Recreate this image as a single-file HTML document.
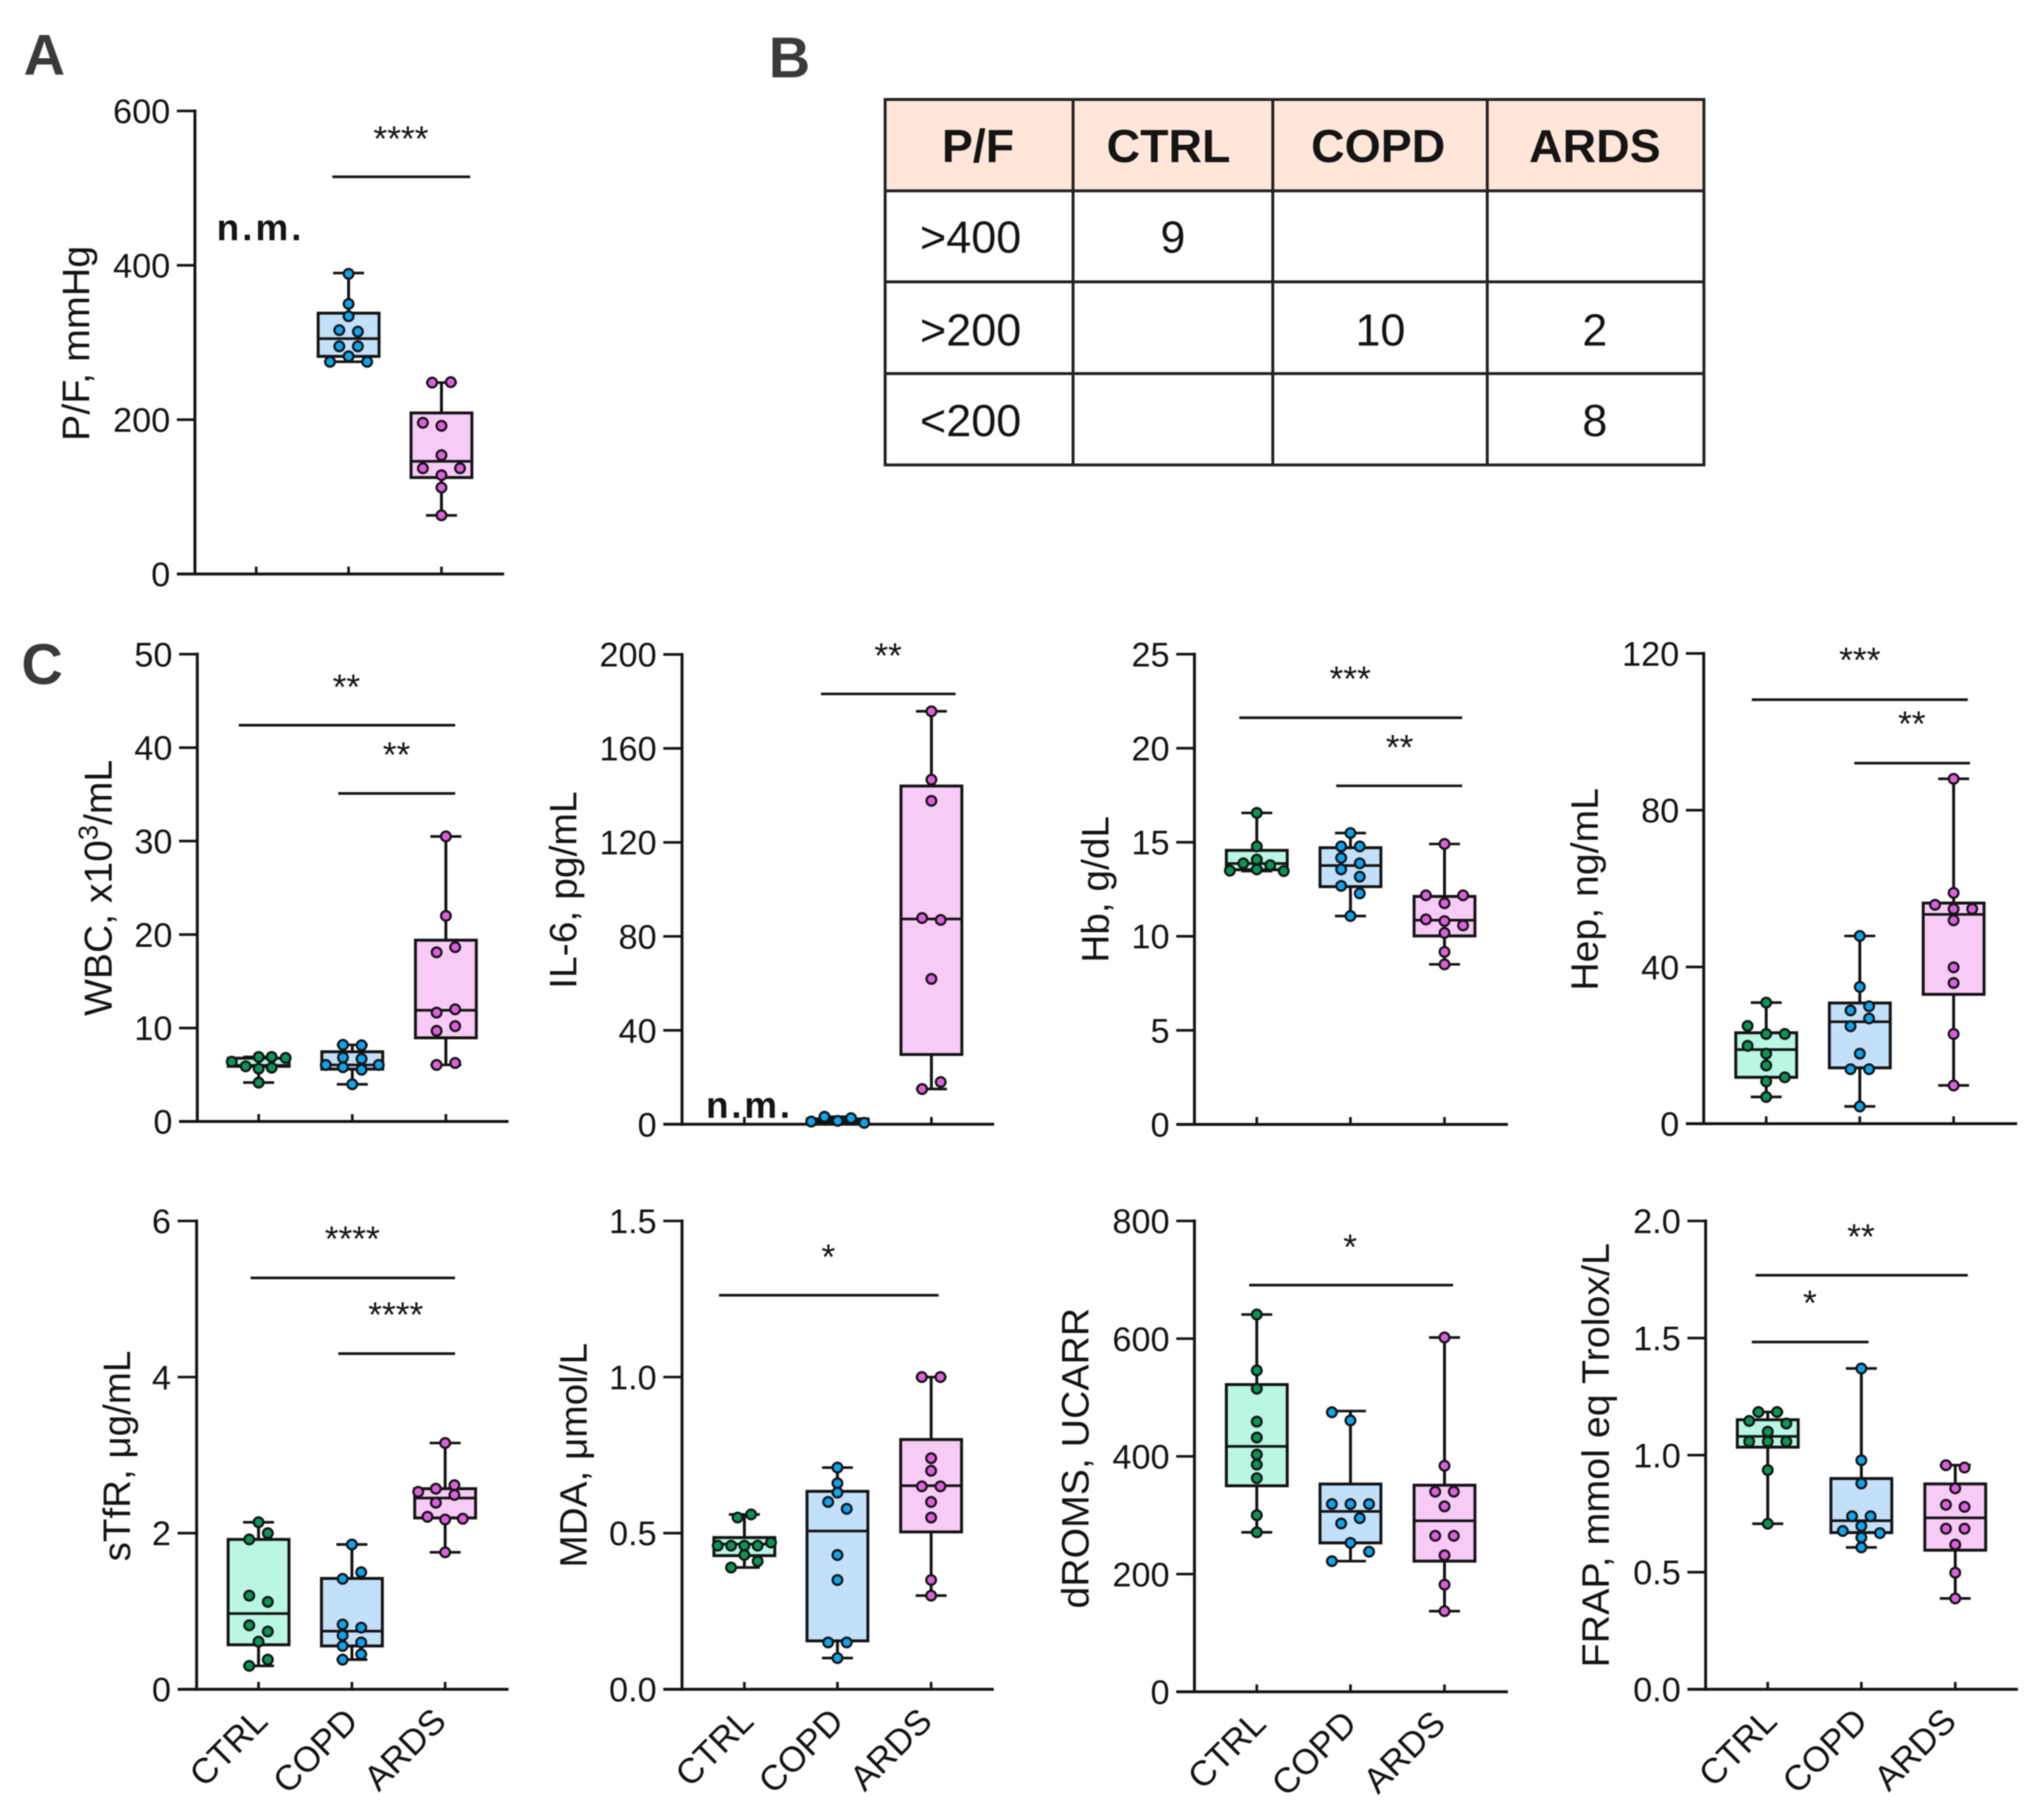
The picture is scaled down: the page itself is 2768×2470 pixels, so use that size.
<!DOCTYPE html>
<html lang="en">
<head>
<meta charset="utf-8">
<title>Box plots of P/F and blood markers in CTRL, COPD and ARDS</title>
<style>
html,body{margin:0;padding:0;background:#fff;width:2768px;height:2470px;overflow:hidden}
svg{display:block;filter:blur(.7px)}
text{font-family:"Liberation Sans",Arial,sans-serif;fill:#141414}
</style>
</head>
<body>
<svg id="figure" xmlns="http://www.w3.org/2000/svg" width="2768" height="2470" viewBox="0 0 2768 2470">
<rect x="0" y="0" width="2768" height="2470" fill="#fff"/>
<text x="32" y="101" font-size="78" font-weight="700" style="fill:#3a3a3a">A</text>
<text x="1043" y="105" font-size="78" font-weight="700" style="fill:#3a3a3a">B</text>
<text x="29" y="928" font-size="78" font-weight="700" style="fill:#3a3a3a">C</text>

<g>
<rect x="1201" y="135" width="1111" height="124" fill="#ffe6d9"/>
<g stroke="#222" stroke-width="4" fill="none">
<rect x="1201" y="135" width="1111" height="496"/>
<line x1="1201" x2="2312" y1="259" y2="259"/>
<line x1="1201" x2="2312" y1="382.5" y2="382.5"/>
<line x1="1201" x2="2312" y1="507" y2="507"/>
<line x1="1456" x2="1456" y1="135" y2="631"/>
<line x1="1727" x2="1727" y1="135" y2="631"/>
<line x1="2018" x2="2018" y1="135" y2="631"/>
</g>
<g font-size="61" text-anchor="middle">
<text x="1327" y="220" font-size="63" font-weight="700">P/F</text>
<text x="1585.5" y="220" font-size="63" font-weight="700">CTRL</text>
<text x="1870" y="220" font-size="63" font-weight="700">COPD</text>
<text x="2164" y="220" font-size="63" font-weight="700">ARDS</text>
<text x="1317" y="343">&gt;400</text>
<text x="1317" y="469">&gt;200</text>
<text x="1317" y="592">&lt;200</text>
<text x="1591.5" y="343">9</text>
<text x="1873" y="469">10</text>
<text x="2164" y="469">2</text>
<text x="2164" y="592">8</text>
</g>
</g>
</svg>

<script>
// ---------- categories ----------
const categories = ['CTRL', 'COPD', 'ARDS'];

// ---------- P/F ----------
const pfTicks = [0, 200, 400, 600];
const pfCtrlValues = [];
const pfCopdValues = [389, 350, 334, 316, 314, 295, 295, 282, 275, 275];
const pfArdsValues = [248, 248.6, 196, 192, 154, 137, 137, 128, 112, 76];
const pfCtrlSlots = [];
const pfCopdSlots = [0, 0, 0, -1, 1, -1, 1, 0, -2, 2];
const pfArdsSlots = [-1, 1, -2, 0, 0, -2, 2, 0, 0, 0];
const pfCtrlBox = null;
const pfCopdBox = [275, 282, 305, 338, 390];
const pfArdsBox = [76, 125, 146, 208.7, 248];
const pfBracketValues = [514.7];
const pfStarValues = [570];
const pfStarLabels = ['****'];

// ---------- WBC ----------
const wbcTicks = [0, 10, 20, 30, 40, 50];
const wbcCtrlValues = [6.4, 5.9, 6.9, 5.65, 6.9, 5.75, 6.8, 4.16];
const wbcCopdValues = [8.2, 8.15, 6.84, 6.7, 6.05, 6.05, 5.8, 5.54, 3.98];
const wbcArdsValues = [30.5, 22, 18.65, 18.1, 11.65, 12, 10.2, 9.7, 6.05, 6.26];
const wbcCtrlSlots = [-2.9, -1.4, 0, 0, 1.4, 1.4, 2.9, 0];
const wbcCopdSlots = [-1, 1, -1, 1, -2.85, 2.85, -1, 1, 0];
const wbcArdsSlots = [0, 0, 1, -1, -1, 1, 1, -1, -1, 1];
const wbcCtrlBox = [4.16, 5.9, 6.0, 6.77, 6.9];
const wbcCopdBox = [3.98, 5.6, 6.05, 7.46, 8.2];
const wbcArdsBox = [6.05, 8.95, 11.9, 19.4, 30.5];
const wbcBracketValues = [42.4, 35.1];
const wbcStarValues = [47, 39.75];
const wbcStarLabels = ['**', '**'];

// ---------- IL-6 ----------
const il6Ticks = [0, 40, 80, 120, 160, 200];
const il6CtrlValues = [];
const il6CopdValues = [1.15, 3.2, 1.44, 2.6, 0.6];
const il6ArdsValues = [175.8, 146.7, 137.7, 87.8, 87, 61.9, 18, 15];
const il6CtrlSlots = [];
const il6CopdSlots = [-2.85, -1.43, 0, 1.43, 2.85];
const il6ArdsSlots = [0, 0, 0, -1, 1, 0, 1, -1];
const il6CtrlBox = null;
const il6CopdBox = [0.6, 0.6, 1.15, 2.3, 3.2];
const il6ArdsBox = [15, 29.7, 87.4, 144, 175.8];
const il6BracketValues = [183.2];
const il6StarValues = [201.4];
const il6StarLabels = ['**'];

// ---------- Hb ----------
const hbTicks = [0, 5, 10, 15, 20, 25];
const hbCtrlValues = [16.56, 14.78, 14.08, 13.88, 13.78, 13.49, 13.56, 13.47];
const hbCopdValues = [15.49, 14.78, 14.78, 14.17, 13.88, 13.56, 13.17, 12.68, 12.28, 11.08];
const hbArdsValues = [14.91, 12.18, 12.18, 11.76, 10.9, 10.81, 10.58, 10.18, 9.17, 8.51];
const hbCtrlSlots = [0, 0, 0, -1.45, 1.45, -2.9, 0, 2.9];
const hbCopdSlots = [0, -1, 1, -1, 1, -1, 1, -1, 1, 0];
const hbArdsSlots = [0, -2, 2, 0, -2, 0, 2, 0, 0, 0];
const hbCtrlBox = [13.47, 13.54, 13.87, 14.57, 16.56];
const hbCopdBox = [11.08, 12.64, 13.76, 14.71, 15.49];
const hbArdsBox = [8.51, 10.02, 10.86, 12.12, 14.91];
const hbBracketValues = [21.62, 18.0];
const hbStarValues = [23.94, 20.3];
const hbStarLabels = ['***', '**'];

// ---------- Hep ----------
const hepTicks = [0, 40, 80, 120];
const hepCtrlValues = [30.9, 24.95, 22.9, 22.9, 19.86, 17.87, 14.85, 11.83, 10.79, 6.82];
const hepCopdValues = [47.9, 34.9, 29.96, 28.9, 26.85, 24.86, 17.87, 13.9, 13.9, 4.4];
const hepArdsValues = [88, 58.9, 55.86, 54.8, 54.8, 51.9, 39.9, 35.9, 22.9, 9.76];
const hepCtrlSlots = [0, -2, 0, 2, -2, 0, 0, 2, 0, 0];
const hepCopdSlots = [0, 0, 1, -1, 1, -1, 0, -1, 1, 0];
const hepArdsSlots = [0, 0, -2, 0, 2, 0, 0, 0, 0, 0];
const hepCtrlBox = [6.82, 11.83, 18.9, 23.2, 30.9];
const hepCopdBox = [4.4, 14.25, 26, 30.8, 47.9];
const hepArdsBox = [9.76, 33, 53.4, 56.3, 88];
const hepBracketValues = [108.2, 92];
const hepStarValues = [119.5, 103.2];
const hepStarLabels = ['***', '**'];

// ---------- sTfR ----------
const stfrTicks = [0, 2, 4, 6];
const stfrCtrlValues = [2.14, 2.0, 1.92, 1.2, 1.12, 0.82, 0.74, 0.61, 0.38, 0.30];
const stfrCopdValues = [1.855, 1.5, 1.415, 0.83, 0.79, 0.69, 0.555, 0.6, 0.45, 0.38];
const stfrArdsValues = [3.155, 2.615, 2.57, 2.53, 2.49, 2.39, 2.21, 2.175, 2.185, 1.755];
const stfrCtrlSlots = [0, 1, -1, -1, 1, -1, 1, 0, 1, -1];
const stfrCopdSlots = [0, 1, -1, -1, 1, -1, -1, 1, 1, -1];
const stfrArdsSlots = [0, 1, -1, -2.9, 1, -1, -1.9, 0, 1.9, 0];
const stfrCtrlBox = [0.30, 0.57, 0.97, 1.92, 2.14];
const stfrCopdBox = [0.38, 0.555, 0.745, 1.42, 1.855];
const stfrArdsBox = [1.755, 2.195, 2.45, 2.57, 3.155];
const stfrBracketValues = [5.27, 4.30];
const stfrStarValues = [5.83, 4.86];
const stfrStarLabels = ['****', '****'];

// ---------- MDA ----------
const mdaTicks = [0, 0.5, 1, 1.5];
const mdaCtrlValues = [0.55, 0.56, 0.46, 0.46, 0.46, 0.46, 0.47, 0.43, 0.41, 0.39];
const mdaCopdValues = [0.71, 0.66, 0.63, 0.60, 0.578, 0.43, 0.35, 0.15, 0.15, 0.10];
const mdaArdsValues = [1.0, 1.0, 0.74, 0.70, 0.65, 0.65, 0.60, 0.55, 0.35, 0.30];
const mdaCtrlSlots = [-0.73, 0.73, -2.87, -1.43, 0, 1.43, 2.87, 0, 1.43, -1.43];
const mdaCopdSlots = [0, 0, 0, -1, 1, 0, 0, -1, 1, 0];
const mdaArdsSlots = [-1, 1, 0, 0, -1, 1, 0, 0, 0, 0];
const mdaCtrlBox = [0.39, 0.428, 0.465, 0.486, 0.56];
const mdaCopdBox = [0.10, 0.155, 0.507, 0.634, 0.71];
const mdaArdsBox = [0.30, 0.504, 0.652, 0.80, 1.0];
const mdaBracketValues = [1.262];
const mdaStarValues = [1.40];
const mdaStarLabels = ['*'];

// ---------- dROMS ----------
const dromsTicks = [0, 200, 400, 600, 800];
const dromsCtrlValues = [641, 546, 515, 459, 432, 403, 386, 363, 300, 271];
const dromsCopdValues = [475, 461, 319, 319, 319, 295, 286, 253, 238, 222];
const dromsArdsValues = [602, 384, 340, 340, 315, 265, 265, 232, 182, 137];
const dromsCtrlSlots = [0, 0, 0, 0, 0, 0, 0, 0, 0, 0];
const dromsCopdSlots = [-2, 0, -2, 0, 2, 1, -1, 0, 2, -2];
const dromsArdsSlots = [0, 0, -1, 1, 0, -1, 1, 0, 0, 0];
const dromsCtrlBox = [271, 350, 417, 522, 641];
const dromsCopdBox = [222, 253, 306.5, 353, 477];
const dromsArdsBox = [137, 222, 290.5, 351, 602];
const dromsBracketValues = [691];
const dromsStarValues = [764];
const dromsStarLabels = ['*'];

// ---------- FRAP ----------
const frapTicks = [0, 0.5, 1, 1.5, 2];
const frapCtrlValues = [1.184, 1.184, 1.146, 1.135, 1.10, 1.058, 1.058, 1.058, 0.936, 0.707];
const frapCopdValues = [1.37, 0.978, 0.879, 0.739, 0.739, 0.697, 0.676, 0.667, 0.648, 0.606];
const frapArdsValues = [0.957, 0.947, 0.858, 0.788, 0.779, 0.686, 0.686, 0.618, 0.498, 0.388];
const frapCtrlSlots = [-1, 1, -2, 2, 0, -2, 0, 2, 0, 0];
const frapCopdSlots = [0, 0, 0, -1, 1, 0, -2, 2, 0, 0];
const frapArdsSlots = [-1, 1, 0, -1, 1, -1, 1, 0, 0, 0];
const frapCtrlBox = [0.707, 1.034, 1.08, 1.151, 1.184];
const frapCopdBox = [0.606, 0.669, 0.72, 0.90, 1.37];
const frapArdsBox = [0.388, 0.594, 0.732, 0.877, 0.957];
const frapBracketValues = [1.768, 1.483];
const frapStarValues = [1.953, 1.67];
const frapStarLabels = ['**', '*'];

// ---------- layout and styling (not data) ----------
const SVGNS = 'http://www.w3.org/2000/svg';
const SLOT = 12.6, BOX_HALF = 41.3, CAP_HALF = 21, LINE = '#141414';
const DOT_COLORS = ['#0a9455', '#0ea3ee', '#dd5fdd'];
const BOX_COLORS = ['#b9f6e3', '#c3e0fb', '#f8cbf6'];
const XLABEL_DX = [15, 11, 4];

const panels = [
  {id:'pf', vMax:600, ticks:pfTicks, dec:0, values:[pfCtrlValues,pfCopdValues,pfArdsValues], slots:[pfCtrlSlots,pfCopdSlots,pfArdsSlots], boxes:[pfCtrlBox,pfCopdBox,pfArdsBox],
   brackets:pfBracketValues, stars:pfStarValues, starLabels:pfStarLabels,
   axisX:264.5, y0:779, yTop:150.6, tickX:[347.6,473,599], left:240, right:684,
   spans:[[451,638]], starX:[544], label:'P/F, mmHg', labelX:121, labelY:466, labelLen:265,
   nm:{x:294, y:326, len:115}, xLabels:false},
  {id:'wbc', vMax:50, ticks:wbcTicks, dec:0, values:[wbcCtrlValues,wbcCopdValues,wbcArdsValues], slots:[wbcCtrlSlots,wbcCopdSlots,wbcArdsSlots], boxes:[wbcCtrlBox,wbcCopdBox,wbcArdsBox],
   brackets:wbcBracketValues, stars:wbcStarValues, starLabels:wbcStarLabels,
   axisX:267.7, y0:1522, yTop:887.8, tickX:[351,478,605], left:243, right:690,
   spans:[[324,617.6],[459,617.6]], starX:[470,538], labelParts:['WBC, x10','3','/mL'], labelX:151.5, labelY:1205, labelLen:0, xLabels:false},
  {id:'il6', vMax:200, ticks:il6Ticks, dec:0, values:[il6CtrlValues,il6CopdValues,il6ArdsValues], slots:[il6CtrlSlots,il6CopdSlots,il6ArdsSlots], boxes:[il6CtrlBox,il6CopdBox,il6ArdsBox],
   brackets:il6BracketValues, stars:il6StarValues, starLabels:il6StarLabels,
   axisX:925.4, y0:1525.8, yTop:888.2, tickX:[1010,1136.7,1263.8], left:900, right:1349,
   spans:[[1114,1296.6]], starX:[1205], label:'IL-6, pg/mL', labelX:782, labelY:1208, labelLen:268,
   nm:{x:958, y:1517, len:114}, xLabels:false},
  {id:'hb', vMax:25, ticks:hbTicks, dec:0, values:[hbCtrlValues,hbCopdValues,hbArdsValues], slots:[hbCtrlSlots,hbCopdSlots,hbArdsSlots], boxes:[hbCtrlBox,hbCopdBox,hbArdsBox],
   brackets:hbBracketValues, stars:hbStarValues, starLabels:hbStarLabels,
   axisX:1620.7, y0:1526, yTop:887.8, tickX:[1705.3,1832.4,1960], left:1596, right:2046,
   spans:[[1681.5,1984],[1813,1984]], starX:[1832,1899], label:'Hb, g/dL', labelX:1504, labelY:1207, labelLen:199, xLabels:false},
  {id:'hep', vMax:120, ticks:hepTicks, dec:0, values:[hepCtrlValues,hepCopdValues,hepArdsValues], slots:[hepCtrlSlots,hepCopdSlots,hepArdsSlots], boxes:[hepCtrlBox,hepCopdBox,hepArdsBox],
   brackets:hepBracketValues, stars:hepStarValues, starLabels:hepStarLabels,
   axisX:2311.7, y0:1525, yTop:886.8, tickX:[2396.5,2523.5,2650.8], left:2287.5, right:2737,
   spans:[[2377,2670],[2516,2673]], starX:[2523.5,2594], label:'Hep, ng/mL', labelX:2168, labelY:1207, labelLen:275, xLabels:false},
  {id:'stfr', vMax:6, ticks:stfrTicks, dec:0, values:[stfrCtrlValues,stfrCopdValues,stfrArdsValues], slots:[stfrCtrlSlots,stfrCopdSlots,stfrArdsSlots], boxes:[stfrCtrlBox,stfrCopdBox,stfrArdsBox],
   brackets:stfrBracketValues, stars:stfrStarValues, starLabels:stfrStarLabels,
   axisX:266.8, y0:2292.6, yTop:1657, tickX:[350.8,477.5,604], left:241, right:690,
   spans:[[340,617.4],[459,617.4]], starX:[478,537], label:'sTfR, \u03BCg/mL', labelX:176.7, labelY:1976, labelLen:286, xLabels:true},
  {id:'mda', vMax:1.5, ticks:mdaTicks, dec:1, values:[mdaCtrlValues,mdaCopdValues,mdaArdsValues], slots:[mdaCtrlSlots,mdaCopdSlots,mdaArdsSlots], boxes:[mdaCtrlBox,mdaCopdBox,mdaArdsBox],
   brackets:mdaBracketValues, stars:mdaStarValues, starLabels:mdaStarLabels,
   axisX:925.4, y0:2292.6, yTop:1657, tickX:[1010,1136.3,1263.4], left:900, right:1348.4,
   spans:[[975.5,1273.5]], starX:[1124], label:'MDA, \u03BCmol/L', labelX:795.8, labelY:1975, labelLen:305, xLabels:true},
  {id:'droms', vMax:800, ticks:dromsTicks, dec:0, values:[dromsCtrlValues,dromsCopdValues,dromsArdsValues], slots:[dromsCtrlSlots,dromsCopdSlots,dromsArdsSlots], boxes:[dromsCtrlBox,dromsCopdBox,dromsArdsBox],
   brackets:dromsBracketValues, stars:dromsStarValues, starLabels:dromsStarLabels,
   axisX:1620.7, y0:2296, yTop:1657, tickX:[1705.3,1832.4,1960], left:1596, right:2046,
   spans:[[1695,1971.6]], starX:[1832], label:'dROMS, UCARR', labelX:1477, labelY:1979, labelLen:408, xLabels:true},
  {id:'frap', vMax:2, ticks:frapTicks, dec:1, values:[frapCtrlValues,frapCopdValues,frapArdsValues], slots:[frapCtrlSlots,frapCopdSlots,frapArdsSlots], boxes:[frapCtrlBox,frapCopdBox,frapArdsBox],
   brackets:frapBracketValues, stars:frapStarValues, starLabels:frapStarLabels,
   axisX:2314.3, y0:2292.6, yTop:1657, tickX:[2398.6,2525.6,2653], left:2289.6, right:2738,
   spans:[[2382,2670],[2377,2535.4]], starX:[2525,2455.7], label:'FRAP, mmol eq Trolox/L', labelX:2183, labelY:1975, labelLen:576, xLabels:true}
];

function mk(tag, attrs, parent) {
  const el = document.createElementNS(SVGNS, tag);
  for (const k in attrs) el.setAttribute(k, attrs[k]);
  parent.appendChild(el);
  return el;
}

const root = document.getElementById('figure');

panels.forEach(function (p) {
  const yScale = function (v) { return p.y0 - (v / p.vMax) * (p.y0 - p.yTop); };
  const xScale = function (i, slot) { return p.tickX[i] + slot * SLOT; };

  const g = mk('g', {}, root);
  
  

  // axes
  const yAxis = mk('line', {x1:p.axisX, x2:p.axisX, y1:yScale(p.vMax) - 2, y2:p.y0 + 2, stroke:LINE, 'stroke-width':4}, g);
  
  
  const xAxis = mk('line', {x1:p.left, x2:p.right, y1:p.y0, y2:p.y0, stroke:LINE, 'stroke-width':4}, g);
  
  

  // y ticks
  p.ticks.forEach(function (t) {
    const y = yScale(t);
    if (t !== 0) {
      const tick = mk('line', {x1:p.left, x2:p.axisX, y1:y, y2:y, stroke:LINE, 'stroke-width':3.6}, g);
      
      
    }
    const lab = mk('text', {x:p.left - 9, y:y + 16.5, 'font-size':46.5, 'text-anchor':'end'}, g);
    lab.textContent = t.toFixed(p.dec);
    
    
  });

  // y axis title
  const title = mk('text', {x:p.labelX, y:p.labelY, 'font-size':p.labelParts ? 53 : 52, 'text-anchor':'middle', transform:'rotate(-90 ' + p.labelX + ' ' + p.labelY + ')'}, g);
  
  
  if (p.labelParts) {
    const a = mk('tspan', {}, title);
    a.textContent = p.labelParts[0];
    const b = mk('tspan', {dy:-19, 'font-size':37}, title);
    b.textContent = p.labelParts[1];
    const c = mk('tspan', {dy:19}, title);
    c.textContent = p.labelParts[2];
  } else {
    title.textContent = p.label;
    title.setAttribute('textLength', p.labelLen);
    title.setAttribute('lengthAdjust', 'spacingAndGlyphs');
  }

  // x ticks and categories
  categories.forEach(function (cat, i) {
    const tick = mk('line', {x1:p.tickX[i], x2:p.tickX[i], y1:p.y0 - 10, y2:p.y0, stroke:LINE, 'stroke-width':3.6}, g);
    
    
    if (p.xLabels) {
      const lx = p.tickX[i] + XLABEL_DX[i];
      const ly = p.y0 + 46;
      const lab = mk('text', {x:lx, y:ly, 'font-size':48, 'text-anchor':'end', transform:'rotate(-45 ' + lx + ' ' + ly + ')'}, g);
      lab.textContent = cat;
      
      
    }
  });

  // boxes
  categories.forEach(function (cat, i) {
    const box = p.boxes[i];
    if (!box) return;
    const cx = p.tickX[i];
    const whisker = mk('line', {x1:cx, x2:cx, y1:yScale(box[4]), y2:yScale(box[0]), stroke:LINE, 'stroke-width':4}, g);
    
    
    const capHigh = mk('line', {x1:cx - CAP_HALF, x2:cx + CAP_HALF, y1:yScale(box[4]), y2:yScale(box[4]), stroke:LINE, 'stroke-width':3.6}, g);
    
    
    const capLow = mk('line', {x1:cx - CAP_HALF, x2:cx + CAP_HALF, y1:yScale(box[0]), y2:yScale(box[0]), stroke:LINE, 'stroke-width':3.6}, g);
    
    
    const rect = mk('rect', {x:cx - BOX_HALF, width:BOX_HALF * 2, y:yScale(box[3]), height:yScale(box[1]) - yScale(box[3]), fill:BOX_COLORS[i], stroke:LINE, 'stroke-width':4}, g);
    
    
    const med = mk('line', {x1:cx - BOX_HALF, x2:cx + BOX_HALF, y1:yScale(box[2]), y2:yScale(box[2]), stroke:LINE, 'stroke-width':3.6}, g);
    
    
  });

  // points
  categories.forEach(function (cat, i) {
    p.values[i].forEach(function (v, j) {
      const dot = mk('circle', {cx:xScale(i, p.slots[i][j]), cy:yScale(v), r:6.6, fill:DOT_COLORS[i], stroke:LINE, 'stroke-width':3}, g);
      
      
    });
  });

  // significance brackets and stars
  p.brackets.forEach(function (v, k) {
    const y = yScale(v);
    const line = mk('line', {x1:p.spans[k][0], x2:p.spans[k][1], y1:y, y2:y, stroke:LINE, 'stroke-width':3.6}, g);
    
    
    const star = mk('text', {x:p.starX[k], y:yScale(p.stars[k]) + 22.5, 'font-size':48, 'text-anchor':'middle'}, g);
    star.textContent = p.starLabels[k];
    
    
  });

  // not measured note
  if (p.nm) {
    const nm = mk('text', {x:p.nm.x, y:p.nm.y, 'font-size':50, 'font-weight':700, textLength:p.nm.len, lengthAdjust:'spacing'}, g);
    nm.textContent = 'n.m.';
    
    
  }
});
</script>
</body>
</html>
